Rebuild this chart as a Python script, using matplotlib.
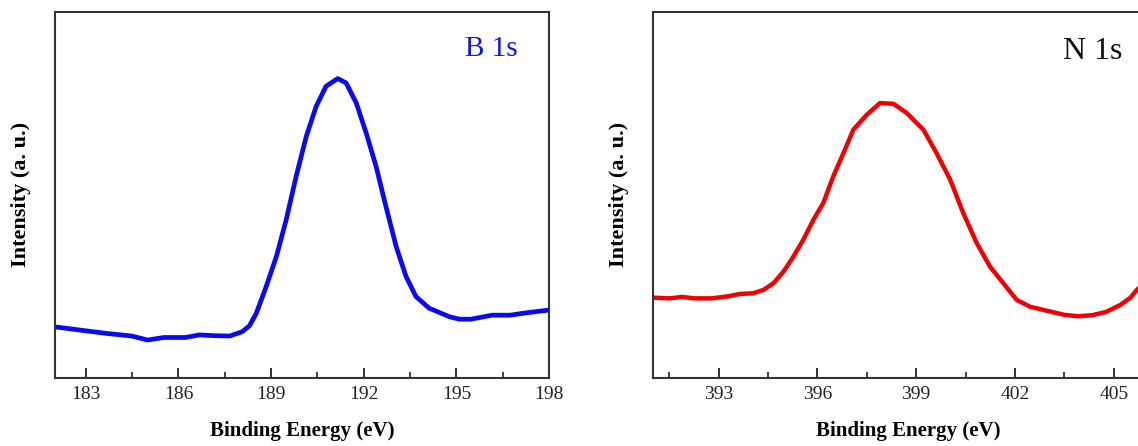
"""XPS high-resolution spectra: B 1s and N 1s."""

import matplotlib
matplotlib.use('Agg')
import matplotlib.pyplot as plt
from matplotlib.ticker import MultipleLocator

## B 1s spectrum (binding energy in eV, intensity in a.u.)
b1s_energy = [182.0, 183.68, 184.49, 185.0, 185.53, 186.22, 186.68, 187.15,
              187.66, 188.07, 188.30, 188.52, 188.84, 189.17, 189.49, 189.81,
              190.14, 190.46, 190.78, 191.16, 191.43, 191.76, 192.08, 192.40,
              192.72, 193.05, 193.37, 193.69, 194.12, 194.77, 195.10, 195.47,
              196.16, 196.74, 197.32, 198.0]
b1s_intensity = [13.9, 12.1, 11.4, 10.3, 11.0, 11.0, 11.7, 11.5,
                 11.4, 12.6, 14.2, 17.6, 24.9, 33.1, 43.2, 55.0,
                 66.0, 74.2, 79.7, 81.8, 80.6, 75.1, 66.9, 57.8,
                 46.8, 35.9, 27.7, 22.2, 19.0, 16.7, 16.0, 16.0,
                 17.1, 17.1, 17.8, 18.5]

## N 1s spectrum
n1s_energy = [390.99, 391.52, 391.89, 392.26, 392.79, 393.32, 393.64, 394.05,
              394.36, 394.66, 394.97, 395.27, 395.57, 395.88, 396.18, 396.48,
              396.79, 397.09, 397.50, 397.90, 398.31, 398.71, 399.22, 399.62,
              400.03, 400.43, 400.84, 401.24, 401.65, 402.05, 402.46, 403.07,
              403.50, 403.92, 404.35, 404.77, 405.20, 405.51, 405.70, 406.0]
n1s_intensity = [21.9, 21.7, 22.1, 21.7, 21.7, 22.3, 22.9, 23.1,
                 24.0, 25.8, 29.0, 33.1, 37.7, 43.2, 47.8, 55.0,
                 61.4, 67.8, 71.9, 75.1, 74.9, 72.4, 67.8, 61.4,
                 54.2, 45.0, 36.8, 30.4, 25.8, 21.3, 19.4, 18.1,
                 17.2, 16.8, 17.1, 18.0, 19.9, 21.9, 24.0, 26.5]

b1s_ticks = [183, 186, 189, 192, 195, 198]
n1s_ticks = [393, 396, 399, 402, 405]

plt.rcParams['font.family'] = ['Liberation Serif', 'DejaVu Serif']

fig = plt.figure(figsize=(11.38, 4.46), dpi=100)
ax1 = fig.add_axes([0.0483, 0.1531, 0.4341, 0.820])
ax2 = fig.add_axes([0.5736, 0.1531, 0.4485, 0.820])

def style_axis(ax, ticks, xlim):
    """Inward ticks, no y ticks, serif labels."""
    ax.set_xlim(*xlim)
    ax.set_ylim(0, 100)
    ax.set_xticks(ticks)
    ax.xaxis.set_minor_locator(MultipleLocator(1.5))
    ax.set_yticks([])
    ax.tick_params(axis='x', which='major', direction='in', length=7,
                   width=1.3, labelsize=14, pad=6, colors='#222222')
    ax.tick_params(axis='x', which='minor', direction='in', length=4,
                   width=1.2, colors='#222222')
    for s in ax.spines.values():
        s.set_linewidth(1.5)
        s.set_color('#333333')
    ax.set_xlabel('Binding Energy (eV)', fontsize=15, fontweight='bold',
                  labelpad=13)
    ax.set_ylabel('Intensity (a. u.)', fontsize=16, fontweight='bold',
                  labelpad=17)

ax1.plot(b1s_energy, b1s_intensity, color='#0a0aee', lw=3.4)
style_axis(ax1, b1s_ticks, (182, 198))
ax1.text(0.937, 0.898, 'B 1s', transform=ax1.transAxes, fontsize=21,
         color='#1515e0', ha='right', va='center')

ax2.plot(n1s_energy, n1s_intensity, color='#f00000', lw=3.2)
style_axis(ax2, n1s_ticks, (391, 406.5))
ax2.text(405.25, 89.2, 'N 1s', fontsize=23, color='#111111',
         ha='right', va='center')

fig.savefig('out.png', dpi=100)
